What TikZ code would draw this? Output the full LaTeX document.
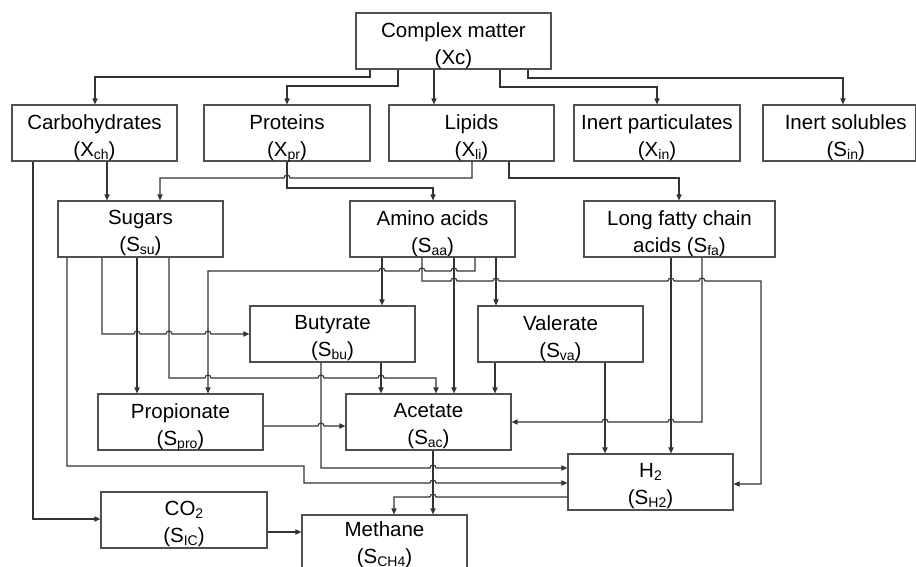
\documentclass[tikz,border=0pt]{standalone}
\usepackage{fontspec}
\setmainfont{Liberation Sans}
\usetikzlibrary{arrows.meta}
\definecolor{linec}{HTML}{333333}
\definecolor{boxc}{HTML}{505050}
\newcommand\sbx[1]{\raisebox{-1.5pt}[0pt][0pt]{\fontsize{7pt}{7pt}\selectfont #1}}
\newcommand\hopr[2]{-- ({#1-3},#2) arc[start angle=180,end angle=0,radius=1.5pt]}
\newcommand\hopl[2]{-- ({#1+3},#2) arc[start angle=0,end angle=180,radius=1.5pt]}
\begin{document}
\begin{tikzpicture}[x=0.5pt,y=-0.5pt,
  box/.style={draw=boxc,line width=0.6pt,minimum height=28pt,inner sep=0pt},
  txt/.style={align=center,inner sep=0pt,yshift=-2.1pt,
    font=\fontsize{10.25pt}{13.5pt}\selectfont},
  arr/.style={draw=linec,line width=0.55pt,-{Triangle[length=3pt,width=2.6pt]}}]
\useasboundingbox (0,0) rectangle (916,567);
% nodes
\node[box,minimum width=97.5pt,label={[txt]center:{Complex matter\\(Xc)}}] (cm) at (453.5,41) {};
\node[box,minimum width=82.5pt,label={[txt]center:{Carbohydrates\\(X\sbx{ch})}}] (ch) at (94.5,133) {};
\node[box,minimum width=83pt,label={[txt]center:{Proteins\\(X\sbx{pr})}}] (pr) at (287,133) {};
\node[box,minimum width=82.5pt,label={[txt]center:{Lipids\\(X\sbx{li})}}] (li) at (471.5,133) {};
\node[box,minimum width=83pt,label={[txt]center:{Inert particulates\\(X\sbx{in})}}] (xin) at (657,133) {};
\node[box,minimum width=76.25pt,label={[txt,xshift=3.25pt]center:{Inert solubles\\(S\sbx{in})}}] (sin) at (839.25,133) {};
\node[box,minimum width=82.5pt,label={[txt]center:{Sugars\\(S\sbx{su})}}] (su) at (140.5,229) {};
\node[box,minimum width=82.5pt,label={[txt]center:{Amino acids\\(S\sbx{aa})}}] (aa) at (432.5,229) {};
\node[box,minimum width=95.5pt,label={[txt]center:{Long fatty chain\\acids (S\sbx{fa})}}] (fa) at (679.5,229) {};
\node[box,minimum width=82.5pt,label={[txt]center:{Butyrate\\(S\sbx{bu})}}] (bu) at (332.5,334) {};
\node[box,minimum width=82.5pt,label={[txt]center:{Valerate\\(S\sbx{va})}}] (va) at (560.5,334) {};
\node[box,minimum width=82.5pt,label={[txt]center:{Propionate\\(S\sbx{pro})}}] (pro) at (180.5,422) {};
\node[box,minimum width=82.5pt,label={[txt]center:{Acetate\\(S\sbx{ac})}}] (ac) at (428.5,422) {};
\node[box,minimum width=82.5pt,label={[txt]center:{H\sbx{2}\\(S\sbx{H2})}}] (h2) at (650.5,482) {};
\node[box,minimum width=83pt,label={[txt]center:{CO\sbx{2}\\(S\sbx{IC})}}] (co2) at (184,520) {};
\node[box,minimum width=82.5pt,label={[txt,yshift=1.4pt]center:{Methane\\(S\sbx{CH4})}}] (ch4) at (384.5,543) {};
% complex matter
\draw[arr] (cm.south -| 370,0) |- (95,77) -- (ch.north -| 95,0);
\draw[arr] (cm.south -| 398,0) |- (287,86) -- (pr.north -| 287,0);
\draw[arr] (cm.south -| 434,0) -- (li.north -| 434,0);
\draw[arr] (cm.south -| 500,0) |- (657,87) -- (xin.north -| 657,0);
\draw[arr] (cm.south -| 528,0) |- (843,78) -- (sin.north -| 843,0);
% particulates
\draw[arr] (ch.south -| 107,0) -- (su.north -| 107,0);
\draw[arr] (ch.south -| 33,0) |- (co2.west |- 0,519);
\draw[arr] (li.south -| 472,0) -- (472,178) \hopl{287}{178} -- (160,178) -- (su.north -| 160,0);
\draw[arr] (li.south -| 509,0) |- (679,178) -- (fa.north -| 679,0);
\draw[arr] (pr.south -| 287,0) |- (433,188) -- (aa.north -| 433,0);
% sugars
\draw[arr] (su.south -| 67,0) -- (67,466) -- (304,466) -- (304,483) \hopr{433}{483} -- (h2.west |- 0,483);
\draw[arr] (su.south -| 102,0) -- (102,334) \hopr{137}{334} \hopr{169}{334} \hopr{208}{334} -- (bu.west |- 0,334);
\draw[arr] (su.south -| 137,0) -- (pro.north -| 137,0);
\draw[arr] (su.south -| 169,0) -- (169,378) \hopr{208}{378} \hopr{321}{378} \hopr{381}{378} -- (436,378) -- (ac.north -| 436,0);
% amino acids
\draw[arr] (aa.south -| 382,0) -- (bu.north -| 382,0);
\draw[arr] (aa.south -| 422,0) -- (422,281) \hopr{454}{281} \hopr{496}{281} \hopr{671}{281} \hopr{702}{281} -- (761,281) |- (h2.east |- 0,484);
\draw[arr] (aa.south -| 454,0) -- (ac.north -| 454,0);
\draw[arr] (aa.south -| 475,0) -- (475,271) \hopl{454}{271} \hopl{422}{271} \hopl{382}{271} -- (208,271) -- (pro.north -| 208,0);
\draw[arr] (aa.south -| 496,0) -- (va.north -| 496,0);
% long chain fatty acids
\draw[arr] (fa.south -| 671,0) -- (h2.north -| 671,0);
\draw[arr] (fa.south -| 702,0) -- (702,422) \hopl{671}{422} \hopl{605}{422} -- (ac.east);
% valerate
\draw[arr] (va.south -| 495,0) -- (ac.north -| 495,0);
\draw[arr] (va.south -| 605,0) -- (h2.north -| 605,0);
% butyrate
\draw[arr] (bu.south -| 321,0) -- (321,468) \hopr{433}{468} -- (h2.west |- 0,468);
\draw[arr] (bu.south -| 381,0) -- (ac.north -| 381,0);
% propionate
\draw[arr] (pro.east |- 0,426) \hopr{321}{426} -- (ac.west |- 0,426);
% methane
\draw[arr] (ac.south -| 433,0) -- (ch4.north -| 433,0);
\draw[arr] (h2.west |- 0,497) \hopl{433}{497} -- (394,497) -- (ch4.north -| 394,0);
\draw[arr] (co2.east |- 0,532) -- (ch4.west |- 0,532);
\end{tikzpicture}
\end{document}
